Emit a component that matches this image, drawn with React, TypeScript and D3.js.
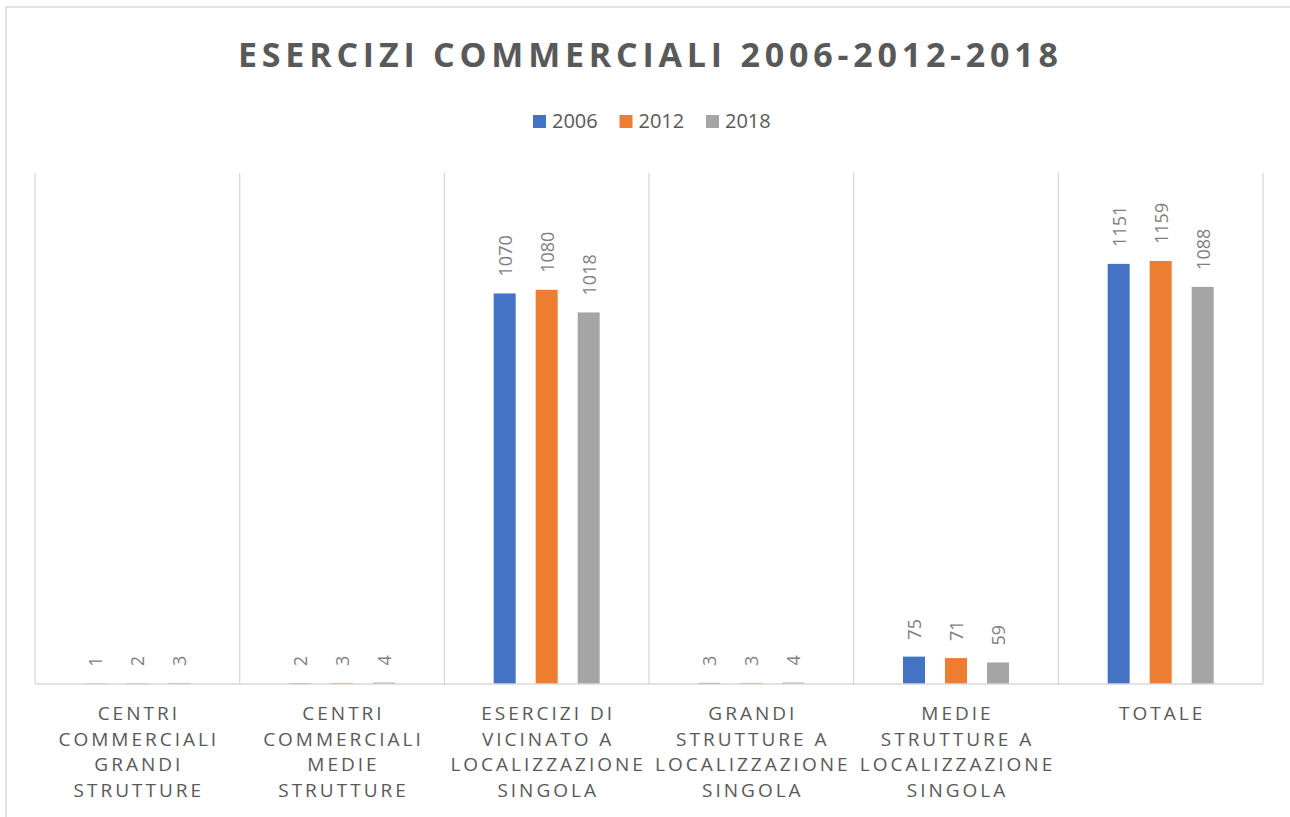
import React from "react";
import * as d3 from "d3";

const title = "ESERCIZI COMMERCIALI 2006-2012-2018";
const categories = [
  "CENTRI\nCOMMERCIALI\nGRANDI\nSTRUTTURE",
  "CENTRI\nCOMMERCIALI\nMEDIE\nSTRUTTURE",
  "ESERCIZI DI\nVICINATO A\nLOCALIZZAZIONE\nSINGOLA",
  "GRANDI\nSTRUTTURE A\nLOCALIZZAZIONE\nSINGOLA",
  "MEDIE\nSTRUTTURE A\nLOCALIZZAZIONE\nSINGOLA",
  "TOTALE",
];
const seriesNames = ["2006", "2012", "2018"];
const values2006 = [1, 2, 1070, 3, 75, 1151];
const values2012 = [2, 3, 1080, 3, 71, 1159];
const values2018 = [3, 4, 1018, 4, 59, 1088];
const seriesValues = [values2006, values2012, values2018];
const colors = ["#4472c4", "#ed7d31", "#a5a5a5"];

const W = 1290;
const H = 817;
const left = 35;
const right = 1263;
const top = 173;
const bottom = 684;
const FONT = "'Open Sans', sans-serif";

export default function App() {
  const x = d3.scaleBand<number>().domain(d3.range(categories.length)).range([left, right]).padding(0);
  const y = d3.scaleLinear().domain([0, 1400]).range([bottom, top]);
  const step = x.step();
  const inner = d3
    .scaleBand<number>()
    .domain(d3.range(seriesNames.length))
    .range([-63, 63])
    .paddingInner(20 / 42)
    .paddingOuter(10 / 42);
  const bw = inner.bandwidth();
  const gridXs = d3.range(categories.length + 1).map((i) => left + i * step);

  return (
    <svg width={W} height={H} style={{ position: "absolute", left: 0, top: 0, background: "#fff" }}>
      <rect x={6} y={7} width={W + 20} height={H + 20} fill="#fff" stroke="#d9d9d9" strokeWidth={1.5} />
      <text
        x={648}
        y={67}
        textAnchor="middle"
        fontFamily={FONT}
        fontWeight={700}
        fontSize={34}
        fill="#595959"
        textLength={820}
        lengthAdjust="spacing"
      >
        {title}
      </text>
      {seriesNames.map((s, i) => (
        <g key={s} transform={`translate(${533 + i * 86.5},0)`}>
          <rect x={0} y={115} width={13} height={13} fill={colors[i]} />
          <text x={19} y={128} fontFamily={FONT} fontSize={20} fill="#595959">
            {s}
          </text>
        </g>
      ))}
      {gridXs.map((gx, i) => (
        <line key={i} x1={gx} x2={gx} y1={top} y2={bottom} stroke="#d9d9d9" strokeWidth={1.3} />
      ))}
      {categories.map((c, ci) => {
        const cx = (x(ci) as number) + step / 2;
        return (
          <g key={ci}>
            {seriesValues.map((vals, si) => {
              const v = vals[ci];
              const bx = cx + (inner(si) as number);
              const by = y(v);
              const lx = bx + bw / 2;
              const ly = by - 17;
              return (
                <g key={si}>
                  <rect x={bx} y={by} width={bw} height={bottom - by} fill={colors[si]} />
                  <text
                    transform={`translate(${lx},${ly}) rotate(-90)`}
                    textAnchor="start"
                    dominantBaseline="central"
                    fontFamily={FONT}
                    fontSize={18}
                    fill="#7f7f7f"
                  >
                    {v}
                  </text>
                </g>
              );
            })}
            <text textAnchor="middle" fontFamily={FONT} fontSize={19} fill="#595959" letterSpacing={3}>
              {c.split("\n").map((line, li) => (
                <tspan key={li} x={cx + 1.5} y={720 + li * 25.6}>
                  {line}
                </tspan>
              ))}
            </text>
          </g>
        );
      })}
      <line x1={left} x2={right} y1={bottom} y2={bottom} stroke="#d9d9d9" strokeWidth={1.5} />
    </svg>
  );
}
